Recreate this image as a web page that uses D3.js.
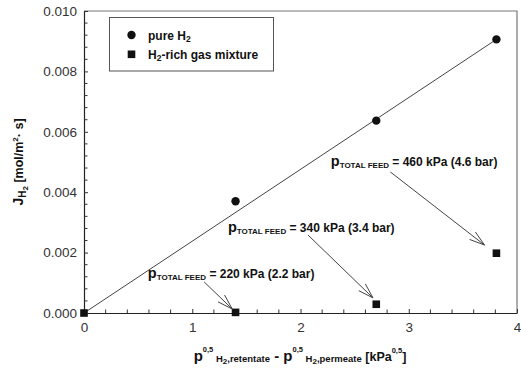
<!DOCTYPE html>
<html><head><meta charset="utf-8">
<script src="https://cdn.jsdelivr.net/npm/d3@7"></script>
<style>
html,body{margin:0;padding:0;background:#fff;}
svg{display:block;font-family:"Liberation Sans",Arial,sans-serif;}
</style></head>
<body>
<svg id="chart" width="521" height="374"></svg>
<script>
// ---- data ----
const pureX = [1.40, 2.70, 3.81];
const pureY = [0.00370, 0.00637, 0.00906];
const mixX = [0.00, 1.40, 2.70, 3.81];
const mixY = [0.00000, 0.00002, 0.00029, 0.00198];
const fitX = [0, 3.81];
const fitY = [0, 0.00906];
const xTicks = [0, 1, 2, 3, 4];
const yTicks = [0.000, 0.002, 0.004, 0.006, 0.008, 0.010];
const annPressure = ["220 kPa (2.2 bar)", "340 kPa (3.4 bar)", "460 kPa (4.6 bar)"];
const annLabelX = [0.59, 1.33, 2.28];
const annLabelY = [0.00116, 0.00268, 0.00488];
const annStartX = [1.11, 2.07, 2.83];
const annStartY = [0.00103, 0.00258, 0.00467];
const annEndX = [1.37, 2.67, 3.70];
const annEndY = [0.00013, 0.00050, 0.00225];
const legendLabels = ["pure H", "H"];

const svg = d3.select("#chart");
const L = 84, R = 517, T = 11, B = 313;
const x = d3.scaleLinear().domain([0, 4]).range([L, R]);
const y = d3.scaleLinear().domain([0, 0.010]).range([B, T]);

// frame (top & right)
svg.append("path").attr("d", `M${L},${T}H${R}V${B}`).attr("fill","none").attr("stroke","#777").attr("stroke-width",1.2);

// axes
const xAxis = d3.axisBottom(x).tickValues(xTicks).tickFormat(d3.format("d")).tickSizeInner(-4).tickSizeOuter(0).tickPadding(9);
const gx = svg.append("g").attr("transform",`translate(0,${B})`).call(xAxis);
const yAxis = d3.axisLeft(y).tickValues(yTicks).tickFormat(d3.format(".3f")).tickSizeInner(-4).tickSizeOuter(0).tickPadding(7);
const gy = svg.append("g").attr("transform",`translate(${L},0)`).call(yAxis);
[gx, gy].forEach(g => {
  g.select(".domain").attr("stroke","#222").attr("stroke-width",1.2);
  g.selectAll(".tick line").attr("stroke","#333");
  g.selectAll(".tick text").attr("font-size",13.5).attr("fill","#333").attr("font-family","'Liberation Sans',Arial,sans-serif");
});
// minor ticks
const xMinor = d3.range(0, 4.0001, 0.2).filter(v => Math.abs(v - Math.round(v)) > 1e-6);
svg.append("g").selectAll("line").data(xMinor).join("line")
  .attr("x1", d => x(d)).attr("x2", d => x(d)).attr("y1", B).attr("y2", B - 3.5).attr("stroke","#333");
const yMinor = d3.range(0, 0.01001, 0.0004).filter(v => Math.abs(v/0.002 - Math.round(v/0.002)) > 1e-6);
svg.append("g").selectAll("line").data(yMinor).join("line")
  .attr("x1", L).attr("x2", L + 3.5).attr("y1", d => y(d)).attr("y2", d => y(d)).attr("stroke","#333");

// fit line
svg.append("line").attr("x1", x(fitX[0])).attr("y1", y(fitY[0])).attr("x2", x(fitX[1])).attr("y2", y(fitY[1]))
  .attr("stroke","#444").attr("stroke-width",1);

// points
svg.append("g").selectAll("circle").data(pureX.map((v,i)=>[v,pureY[i]])).join("circle")
  .attr("cx", d => x(d[0])).attr("cy", d => y(d[1])).attr("r", 4.2).attr("fill","#111");
svg.append("g").selectAll("rect").data(mixX.map((v,i)=>[v,mixY[i]])).join("rect")
  .attr("x", d => x(d[0]) - 3.8).attr("y", d => y(d[1]) - 3.8).attr("width", 7.6).attr("height", 7.6).attr("fill","#111");

// annotations
annPressure.forEach((lab, i) => {
  const t = svg.append("text").attr("x", x(annLabelX[i])).attr("y", y(annLabelY[i]))
    .attr("font-weight","bold").attr("fill","#111").attr("font-size",12);
  t.append("tspan").attr("font-size",14.5).text("p");
  t.append("tspan").attr("font-size",8).attr("dy",2).text("TOTAL FEED");
  t.append("tspan").attr("font-size",12).attr("dy",-2).text(" = " + lab);
  const x1 = x(annStartX[i]), y1 = y(annStartY[i]), x2 = x(annEndX[i]), y2 = y(annEndY[i]);
  const ang = Math.atan2(y2 - y1, x2 - x1), len = 16, spread = 0.30;
  const b1 = [x2 - len*Math.cos(ang - spread), y2 - len*Math.sin(ang - spread)];
  const b2 = [x2 - len*Math.cos(ang + spread), y2 - len*Math.sin(ang + spread)];
  svg.append("path").attr("d", `M${x1},${y1}L${x2},${y2}M${b1[0]},${b1[1]}L${x2},${y2}L${b2[0]},${b2[1]}`)
    .attr("fill","none").attr("stroke","#444").attr("stroke-width",1);
});

// legend
const lg = svg.append("g");
lg.append("rect").attr("x",109.5).attr("y",17.5).attr("width",164).attr("height",53.5).attr("fill","#fff").attr("stroke","#555").attr("stroke-width",1);
lg.append("circle").attr("cx",131.5).attr("cy",35).attr("r",4.2).attr("fill","#111");
lg.append("rect").attr("x",127.7).attr("y",50.5).attr("width",7.6).attr("height",7.6).attr("fill","#111");
const t1 = lg.append("text").attr("x",148).attr("y",39.5).attr("font-weight","bold").attr("font-size",12).attr("fill","#111");
t1.append("tspan").text(legendLabels[0]);
t1.append("tspan").attr("font-size",8.5).attr("dy",2.5).text("2");
const t2 = lg.append("text").attr("x",148).attr("y",58.5).attr("font-weight","bold").attr("font-size",12).attr("fill","#111");
t2.append("tspan").text(legendLabels[1]);
t2.append("tspan").attr("font-size",8.5).attr("dy",2.5).text("2");
t2.append("tspan").attr("dy",-2.5).text("-rich gas mixture");

// y label
const yl = svg.append("text").attr("transform","translate(23,162) rotate(-90)").attr("text-anchor","middle")
  .attr("font-weight","bold").attr("font-size",12.5).attr("fill","#111");
yl.append("tspan").attr("font-size",14).text("J");
yl.append("tspan").attr("font-size",10).attr("dy",3).text("H");
yl.append("tspan").attr("font-size",8).attr("dy",2).text("2");
yl.append("tspan").attr("dy",-5).text(" [mol/m");
yl.append("tspan").attr("font-size",8).attr("dy",-5).text("2");
yl.append("tspan").attr("dy",5).text("· s]");

// x label
const xl = svg.append("text").attr("x",300).attr("y",361).attr("text-anchor","middle")
  .attr("font-weight","bold").attr("font-size",12.5).attr("fill","#111");
function pTerm(sub, first) {
  xl.append("tspan").attr("font-size",15).attr("dy", first ? 0 : -1).text(first ? "p" : " - p");
  xl.append("tspan").attr("font-size",7.5).attr("dy",-9).text("0,5");
  xl.append("tspan").attr("font-size",9.5).attr("dy",10).text("  H");
  xl.append("tspan").attr("font-size",8).attr("dy",2).text("2");
  xl.append("tspan").attr("font-size",9.5).attr("dy",-2).text(sub);
}
pTerm(",retentate", true);
pTerm(",permeate", false);
xl.append("tspan").attr("font-size",12.5).attr("dy",-1).text(" [kPa");
xl.append("tspan").attr("font-size",7.5).attr("dy",-8).text("0,5");
xl.append("tspan").attr("font-size",12.5).attr("dy",8).text("]");
</script>
</body></html>
